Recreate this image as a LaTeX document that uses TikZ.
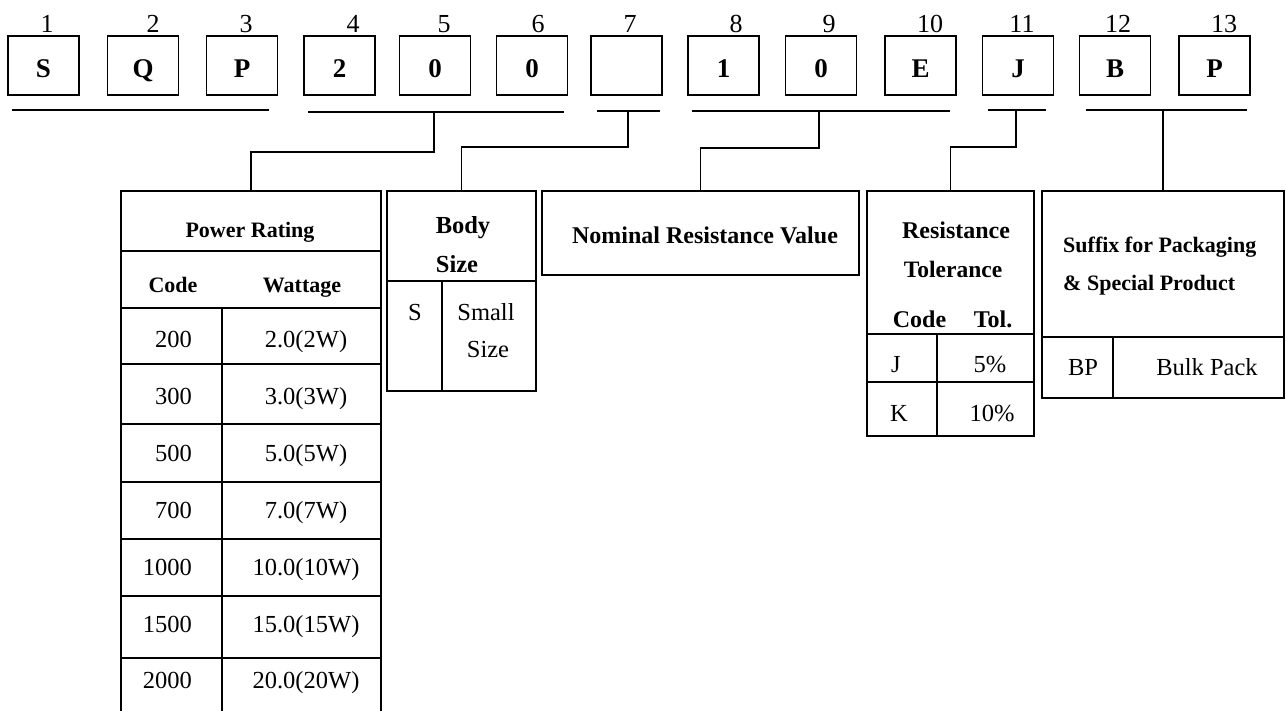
\documentclass[tikz,border=0pt]{standalone}
\usepackage{fontspec}
\setmainfont{Liberation Serif}
\begin{document}
\begin{tikzpicture}[x=1pt,y=-1pt,
  topbox/.style={draw, line width=1.4pt, minimum width=71pt, minimum height=59pt, inner sep=0pt,
    text height=23pt, text depth=0pt, font=\fontsize{27}{30}\selectfont\bfseries},
  lbl/.style={inner sep=0pt, anchor=base, font=\fontsize{26}{30}\selectfont},
  tbl/.style={draw, line width=1.8pt, inner sep=0pt, anchor=north west},
  tline/.style={line width=1.8pt},
  hd/.style={inner sep=0pt, anchor=base, font=\fontsize{22}{26}\selectfont\bfseries},
  hdb/.style={inner sep=0pt, anchor=base, font=\fontsize{24}{28}\selectfont\bfseries},
  cell/.style={inner sep=0pt, anchor=base, font=\fontsize{24.5}{28}\selectfont},
  bar/.style={line width=1.3pt},
  conn/.style={line width=1.3pt}]
\useasboundingbox (0,0) rectangle (1286,710);
\clip (0,0) rectangle (1286,710);

% ---- top code boxes ----
\node[topbox] (b1)  at (43.5,65.5)   {S};
\node[topbox] (b2)  at (143,65.5)    {Q};
\node[topbox] (b3)  at (242,65.5)    {P};
\node[topbox] (b4)  at (339.5,65.5)  {2};
\node[topbox] (b5)  at (435,65.5)    {0};
\node[topbox] (b6)  at (532,65.5)    {0};
\node[topbox] (b7)  at (626.5,65.5)  {};
\node[topbox] (b8)  at (723.5,65.5)  {1};
\node[topbox] (b9)  at (821,65.5)    {0};
\node[topbox] (b10) at (920.5,65.5)  {E};
\node[topbox] (b11) at (1018,65.5)   {J};
\node[topbox] (b12) at (1115,65.5)   {B};
\node[topbox] (b13) at (1214.5,65.5) {P};

% ---- position numbers ----
\node[lbl] (l1)  at (47,32)   {1};
\node[lbl] (l2)  at (153,32)  {2};
\node[lbl] (l3)  at (246,32)  {3};
\node[lbl] (l4)  at (353,32)  {4};
\node[lbl] (l5)  at (444,32)  {5};
\node[lbl] (l6)  at (538,32)  {6};
\node[lbl] (l7)  at (630,32)  {7};
\node[lbl] (l8)  at (736,32)  {8};
\node[lbl] (l9)  at (829,32)  {9};
\node[lbl] (l10) at (930,32)  {10};
\node[lbl] (l11) at (1022,32) {11};
\node[lbl] (l12) at (1118,32) {12};
\node[lbl] (l13) at (1224,32) {13};

% ---- tables ----
% Power Rating
\node[tbl, minimum width=260pt, minimum height=524pt] (pr) at (120,190) {};
\draw[tline] (120,251) -- (380,251);
\draw[tline] (120,308) -- (380,308);
\foreach \yy in {364,424,482,539,596,658} \draw[tline] (120,\yy) -- (380,\yy);
\draw[tline] (222,308) -- (222,714);
\node[hd] (prh) at (250,237) {Power Rating};
\node[hd] (prc) at (173,292) {Code};
\node[hd] (prw) at (302,292) {Wattage};
\foreach \c/\w/\yy [count=\i] in {200/2.0(2W)/347, 300/3.0(3W)/404, 500/5.0(5W)/461, 700/7.0(7W)/518,
  1000/10.0(10W)/575, 1500/15.0(15W)/632, 2000/20.0(20W)/688}{
  \node[cell, anchor=base east] (prc\i) at (192,\yy) {\c};
  \node[cell] (prw\i) at (306,\yy) {\w};
}

% Body Size
\node[tbl, minimum width=149pt, minimum height=200pt] (bs) at (386,190) {};
\draw[tline] (386,281) -- (535,281);
\draw[tline] (442,281) -- (442,390);
\node[inner sep=0pt, anchor=base, font=\fontsize{24.5}{28}\selectfont\bfseries] (bsh1) at (463,233) {Body};
\node[inner sep=0pt, anchor=base, font=\fontsize{24.5}{28}\selectfont\bfseries] (bsh2) at (457,272) {Size};
\node[cell] (bss) at (415,320) {S};
\node[cell] (bsn1) at (486,320) {Small};
\node[cell] (bsn2) at (488,357) {Size};

% Nominal Resistance Value
\node[tbl, minimum width=317pt, minimum height=84pt] (nr) at (541,190) {};
\node[hdb] (nrh) at (705,243) {Nominal Resistance Value};

% Resistance Tolerance
\node[tbl, minimum width=167pt, minimum height=245pt] (rt) at (866,190) {};
\draw[tline] (866,334) -- (1033,334);
\draw[tline] (866,382) -- (1033,382);
\draw[tline] (937,334) -- (937,435);
\node[inner sep=0pt, anchor=base, font=\fontsize{24}{28}\selectfont\bfseries] (rth1) at (956,238) {Resistance};
\node[inner sep=0pt, anchor=base, font=\fontsize{23.5}{28}\selectfont\bfseries] (rth2) at (953,277) {Tolerance};
\node[hdb] (rtc) at (919.5,327) {Code};
\node[hdb] (rtt) at (993,327) {Tol.};
\node[cell] (rtj) at (896,372) {J};
\node[cell] (rt5) at (990,372) {5\%};
\node[cell] (rtk) at (899,421) {K};
\node[cell] (rt10) at (992,421) {10\%};

% Suffix for Packaging
\node[tbl, minimum width=242pt, minimum height=207pt] (sp) at (1041,190) {};
\draw[tline] (1041,337) -- (1283,337);
\draw[tline] (1113,337) -- (1113,397);
\node[hd, anchor=base west] (sph1) at (1063,252) {Suffix for Packaging};
\node[hd, anchor=base west] (sph2) at (1063,290) {\& Special Product};
\node[cell] (spb) at (1083,375) {BP};
\node[cell] (spk) at (1207,375) {Bulk Pack};

% ---- group bars and connectors ----
\coordinate (g1a) at (12,110);   \coordinate (g1b) at (269,110);
\coordinate (g2a) at (308,112);  \coordinate (g2b) at (564,112);  \coordinate (g2m) at (434,112);  \coordinate (k2) at (434,152);
\coordinate (g3a) at (597,111);  \coordinate (g3b) at (660,111);  \coordinate (g3m) at (628,111);  \coordinate (k3) at (628,147);
\coordinate (g4a) at (692,111);  \coordinate (g4b) at (950,111);  \coordinate (g4m) at (819,111);  \coordinate (k4) at (819,148);
\coordinate (g5a) at (988,110);  \coordinate (g5b) at (1046,110); \coordinate (g5m) at (1016,110); \coordinate (k5) at (1016,147);
\coordinate (g6a) at (1086,110); \coordinate (g6b) at (1247,110); \coordinate (g6m) at (1163,110);

\draw[bar] (g1a) -- (g1b);
\draw[bar] (g2a) -- (g2b);
\draw[bar] (g3a) -- (g3b);
\draw[bar] (g4a) -- (g4b);
\draw[bar] (g5a) -- (g5b);
\draw[bar] (g6a) -- (g6b);

\draw[conn] (g2m) -- (k2) -| (pr.north);
\draw[conn] (g3m) -- (k3) -| (bs.north);
\draw[conn] (g4m) -- (k4) -| (nr.north);
\draw[conn] (g5m) -- (k5) -| (rt.north);
\draw[conn] (g6m) -- (g6m |- sp.north);
\end{tikzpicture}
\end{document}
